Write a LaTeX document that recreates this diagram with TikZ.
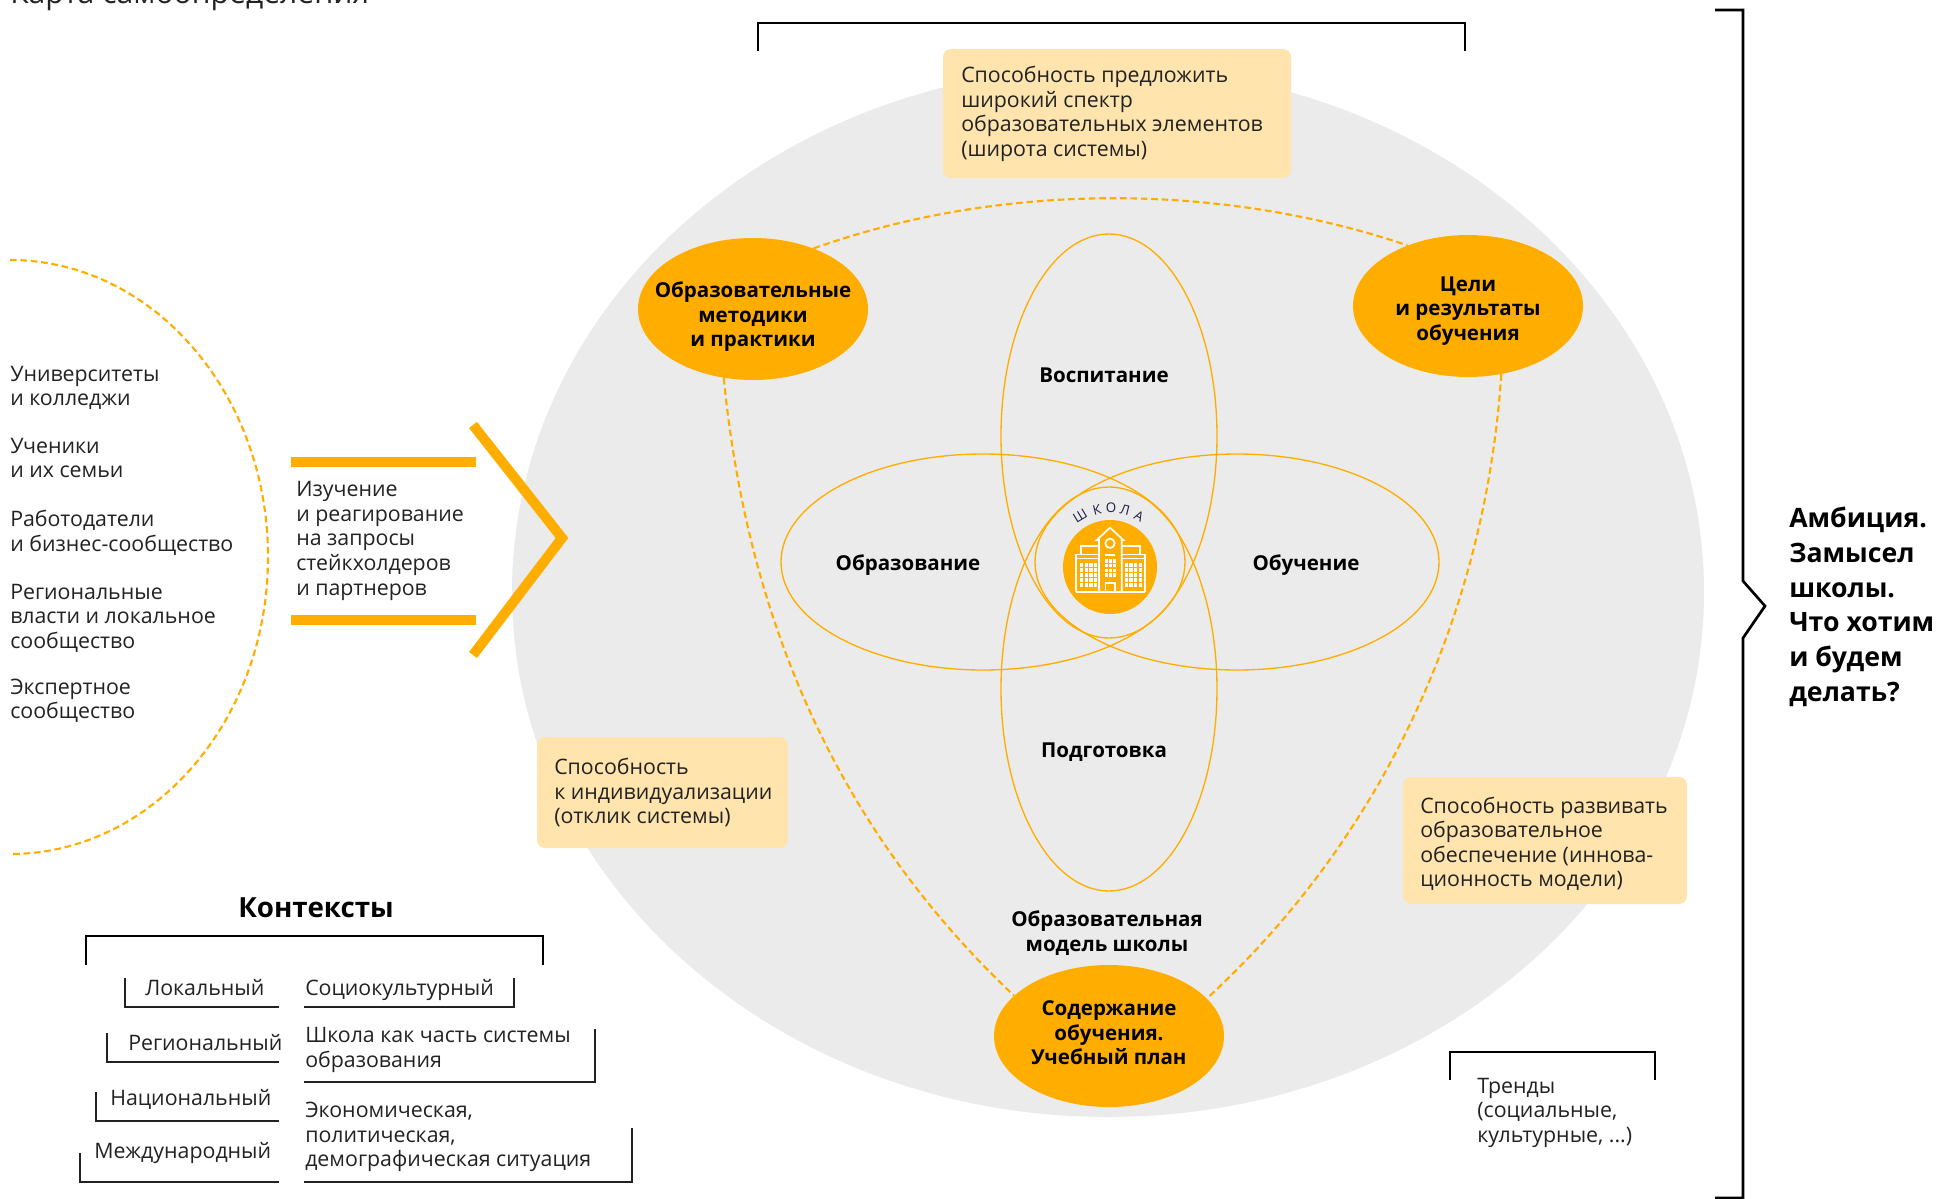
\documentclass[tikz,border=0pt]{standalone}
\usepackage{fontspec}
\setmainfont{Open Sans}
\usetikzlibrary{shapes.geometric}
\definecolor{amber}{HTML}{FFAE00}
\definecolor{softgrey}{HTML}{EBEBEB}
\definecolor{cream}{HTML}{FFE4AD}
\definecolor{ink}{HTML}{222222}
\tikzset{
  bodytxt/.style={font=\fontsize{16}{18.4}\selectfont,align=left,inner sep=0pt,anchor=west,text=ink,yshift=-2.2pt},
  strongtxt/.style={font=\fontsize{15.4}{18.4}\selectfont\bfseries,align=center,inner sep=0pt,text=black},
  keyoval/.style={ellipse,fill=amber,minimum width=172.5pt,minimum height=106.5pt,inner sep=0pt},
  petal/.style={draw=amber,line width=1pt},
  dashlink/.style={draw=amber,line width=1.6pt,dash pattern=on 5pt off 2.8pt},
  creambox/.style={fill=cream,rounded corners=6pt},
  heavybracket/.style={draw=black,line width=1.7pt},
  thinbracket/.style={draw=ink,line width=.9pt},
  chev/.style={draw=amber,line width=7.5pt},
  schoolline/.style={draw=white,line width=1.25pt},
  schoolletter/.style={font=\fontsize{10}{12}\selectfont,text=ink!85!blue,inner sep=0pt}
}
\begin{document}
\begin{tikzpicture}[x=.75pt,y=-.75pt]
\useasboundingbox (0,0) rectangle (1939,1199);
% background disc
\fill[softgrey] (1108,592) ellipse [x radius=596,y radius=525];
% cream boxes
\path[creambox] (943,49) rectangle (1291,178);
\path[creambox] (537,737) rectangle (788,848);
\path[creambox] (1403,777) rectangle (1687,904);
% petals
\draw[petal] (1109,436) ellipse [x radius=108,y radius=202];
\draw[petal] (1109,689) ellipse [x radius=108,y radius=202];
\draw[petal] (983,562) ellipse [x radius=202,y radius=108];
\draw[petal] (1237,562) ellipse [x radius=202,y radius=108];
% key ovals
\node[keyoval] (methods) at (753,309) {};
\node[keyoval] (goals) at (1468,306) {};
\node[keyoval] (content) at (1109,1036) {};
\node[strongtxt] (methodstxt) at (753,317) {Образовательные\\методики\\и практики};
\node[strongtxt] (goalstxt) at (1468,311) {Цели\\и результаты\\обучения};
\node[strongtxt] (contenttxt) at (1109,1033) {Содержание\\обучения.\\Учебный план};
% dashed links
\draw[dashlink] (methods.45) .. controls (1000,182) and (1220,182) .. (goals.135);
\draw[dashlink] (methods.247) .. controls (746,605) and (828,820) .. (content.157);
\draw[dashlink] (goals.296) .. controls (1486,606) and (1388,832) .. (content.21);
\draw[dashlink] (10,260) arc [start angle=-90,end angle=90,x radius=258,y radius=297];
% chevron
\draw[chev] (291,461.5) -- (476,461.5);
\draw[chev] (291,619.5) -- (476,619.5);
\draw[chev] (473,425) -- (562,538) -- (473,655);
% brackets
\draw[heavybracket] (758,51) -- (758,23) -- (1465,23) -- (1465,51);
\draw[heavybracket] (86,965) -- (86,936) -- (543,936) -- (543,965);
\draw[heavybracket] (1450,1080) -- (1450,1052) -- (1655,1052) -- (1655,1080);
\draw[heavybracket,line width=2pt] (1715,10) -- (1743,10) -- (1743,581) -- (1765,606) -- (1743,638) -- (1743,1198) -- (1715,1198);
% small context brackets
\draw[thinbracket] (125,978) -- (125,1007) -- (279,1007);
\draw[thinbracket] (107,1033) -- (107,1062) -- (279,1062);
\draw[thinbracket] (96,1092) -- (96,1121) -- (279,1121);
\draw[thinbracket] (80,1153) -- (80,1182) -- (279,1182);
\draw[thinbracket] (304,1007) -- (514,1007) -- (514,978);
\draw[thinbracket] (304,1082) -- (595,1082) -- (595,1029);
\draw[thinbracket] (304,1182) -- (632,1182) -- (632,1128);
% school disc and icon
\node[circle,fill=amber,minimum size=70.5pt,inner sep=0pt] (schooldisc) at (1110,567) {};
\begin{scope}[shift={(960,460)},x=.25pt,y=-.25pt]
  \draw[schoolline] (347,395) -- (555,395);
  \draw[schoolline] (347,395) -- (347,283) -- (415,283);
  \draw[schoolline] (555,395) -- (555,283) -- (487,283);
  \draw[schoolline] (347,295) -- (415,295);
  \draw[schoolline] (555,295) -- (487,295);
  \draw[schoolline] (362,283) -- (362,258) -- (415,258);
  \draw[schoolline] (540,283) -- (540,258) -- (487,258);
  \draw[schoolline] (417,395) -- (417,240) -- (410,240) -- (450,203) -- (490,240) -- (485,240) -- (485,395);
  \draw[schoolline] (450,250) circle [radius=14];
  \draw[schoolline] (436,395) -- (436,368) -- (464,368) -- (464,395);
  \draw[schoolline] (435,284) -- (465,284);
  \foreach \cx in {0,1,2,3} \foreach \cy in {0,1,2,3,4}
    {\fill[white] (360+\cx*14,310+\cy*15) rectangle +(10,11);
     \fill[white] (494+\cx*14,310+\cy*15) rectangle +(10,11);}
  \foreach \cx in {0,1,2} \foreach \cy in {0,1,2,3}
    {\fill[white] (435+\cx*12,298+\cy*14) rectangle +(8,10);}
\end{scope}
\node[schoolletter,rotate=31] (la) at (1080,516) {Ш};
\node[schoolletter,rotate=14] (lb) at (1097,510) {К};
\node[schoolletter] (lc) at (1111,508) {О};
\node[schoolletter,rotate=-14] (ld) at (1125,510) {Л};
\node[schoolletter,rotate=-28] (le) at (1139,516) {А};
% labels
\node[strongtxt] (vos) at (1104,375) {Воспитание};
\node[strongtxt] (obr) at (908,565) {Образование};
\node[strongtxt] (obu) at (1306,565) {Обучение};
\node[strongtxt] (pod) at (1104,752) {Подготовка};
\node[strongtxt] (model) at (1107,933) {Образовательная\\модель школы};
% clipped title
\node[inner sep=0pt,anchor=base west,font=\fontsize{22.6}{26}\selectfont,text=ink] (title) at (10,3) {Карта самоопределения};
% stakeholder list
\node[bodytxt] (s1) at (10,385) {Университеты\\и колледжи};
\node[bodytxt] (s2) at (10,455) {Ученики\\и их семьи};
\node[bodytxt] (s3) at (10,530) {Работодатели\\и бизнес-сообщество};
\node[bodytxt] (s4) at (10,615) {Региональные\\власти и локальное\\сообщество};
\node[bodytxt] (s5) at (10,698) {Экспертное\\сообщество};
\node[bodytxt] (study) at (296,538) {Изучение\\и реагирование\\на запросы\\стейкхолдеров\\и партнеров};
% box texts
\node[bodytxt] (b1) at (961,111) {Способность предложить\\широкий спектр\\образовательных элементов\\(широта системы)};
\node[bodytxt] (b2) at (554,790) {Способность\\к индивидуализации\\(отклик системы)};
\node[bodytxt] (b3) at (1420,841) {Способность развивать\\образовательное\\обеспечение (иннова-\\ционность модели)};
% contexts
\node[inner sep=0pt,font=\fontsize{20.8}{24}\selectfont\bfseries,text=black] (ctx) at (316,908) {Контексты};
\node[bodytxt] (c1) at (145,985) {Локальный};
\node[bodytxt] (c2) at (128,1040) {Региональный};
\node[bodytxt] (c3) at (110,1096) {Национальный};
\node[bodytxt] (c4) at (94,1150) {Международный};
\node[bodytxt] (d1) at (305,987) {Социокультурный};
\node[bodytxt] (d2) at (305,1047) {Школа как часть системы\\образования};
\node[bodytxt] (d3) at (305,1134) {Экономическая,\\политическая,\\демографическая ситуация};
\node[bodytxt] (tr) at (1477,1110) {Тренды\\(социальные,\\культурные, ...)};
\node[font=\fontsize{20}{26}\selectfont\bfseries,align=left,inner sep=0pt,anchor=west,text=black] (amb) at (1789,607) {Амбиция.\\Замысел\\школы.\\Что хотим\\и будем\\делать?};
\end{tikzpicture}
\end{document}
